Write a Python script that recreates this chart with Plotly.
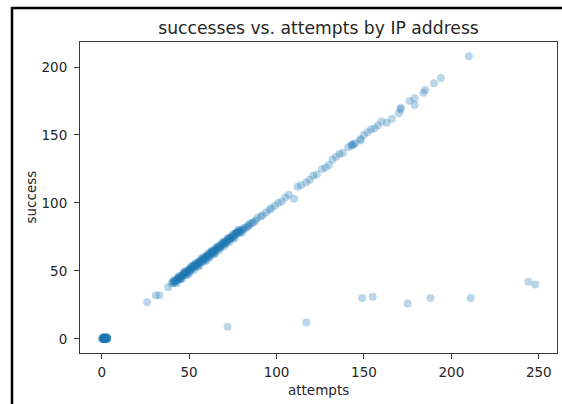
import plotly.graph_objects as go

# Login attempts and successes per IP address
attempts = [
    # addresses with almost no activity
    1, 1, 1, 1, 2, 2, 2, 3, 1, 2, 1, 1, 3, 2, 1, 1, 2, 3, 1, 2,
    2, 1, 0, 1, 2, 3, 1, 2, 1, 2, 3, 1, 2, 1, 3, 2, 2, 3, 2, 1,
    # main band
    26, 31, 33, 38,
    40, 41, 41, 42, 42, 43, 43, 44, 44, 45, 45, 45, 46, 46, 47, 47, 47, 48, 48,
    49, 49, 50, 50, 50, 51, 51, 52, 52, 52, 53, 53, 54, 54, 55, 55, 55, 56, 56,
    57, 57, 58, 58, 58, 59, 59, 60, 60, 60, 61, 61, 62, 62, 63, 63, 64, 64, 64,
    65, 65, 66, 66, 67, 67, 68, 68, 69, 69, 70, 70, 71, 71, 72, 72, 73, 73, 74,
    74, 75, 75, 76, 76, 77, 77, 78, 78, 79, 79, 80, 81, 82,
    # extra spread across the band
    41, 43, 44, 46, 48, 49, 51, 53, 54, 56, 57, 59, 61, 62, 63, 65, 66, 67,
    69, 70, 72, 73, 75, 76, 78, 80, 83, 86,
    42, 44, 45, 47, 48, 50, 51, 53, 55, 56, 58, 60, 61, 63, 64, 66, 68, 70,
    71, 73, 75, 77, 79, 81, 84, 88, 92, 97,
    84, 85, 87, 89, 91, 94, 96, 99, 101, 103, 105, 107, 110, 112, 114, 117,
    119, 121, 123, 126, 128, 130, 132, 134, 136, 138, 141, 143, 143, 144, 145,
    148, 148, 150, 152, 154, 156, 158, 160, 163, 166, 170, 171, 171, 176, 179,
    179, 184, 185, 190, 194, 210,
    # low-success outliers
    72, 117, 149, 155, 175, 188, 211, 244, 248,
]
success = [
    0, 0, 1, 0, 0, 1, 0, 0, 0, 1, 0, 0, 1, 0, 0, 1, 0, 0, 0, 0,
    1, 0, 0, 0, 0, 0, 1, 0, 0, 0, 1, 0, 0, 1, 0, 0, 0, 1, 0, 0,
    27, 32, 32, 38,
    41, 41, 42, 42, 43, 43, 44, 44, 45, 44, 45, 46, 46, 47, 47, 48, 49, 48, 49,
    49, 50, 48, 50, 51, 51, 52, 52, 53, 54, 53, 54, 54, 55, 53, 55, 56, 56, 57,
    57, 58, 58, 59, 60, 59, 60, 58, 60, 61, 61, 62, 62, 63, 63, 64, 62, 64, 65,
    65, 66, 66, 67, 67, 68, 68, 69, 69, 70, 70, 71, 71, 72, 72, 73, 73, 74, 74,
    75, 75, 76, 76, 77, 77, 78, 78, 79, 79, 80, 80, 80, 82,
    43, 41, 46, 44, 50, 47, 53, 51, 56, 54, 59, 57, 63, 60, 65, 63, 68, 65,
    71, 68, 74, 71, 77, 74, 80, 78, 82, 85,
    42, 45, 44, 48, 47, 51, 50, 54, 55, 57, 57, 61, 60, 64, 63, 67, 67, 71,
    70, 74, 74, 78, 78, 81, 84, 87, 91, 96,
    83, 85, 86, 89, 90, 93, 95, 98, 100, 101, 104, 106, 103, 112, 113, 115,
    117, 120, 121, 125, 126, 128, 132, 134, 136, 137, 141, 142, 143, 143, 144,
    147, 146, 150, 152, 154, 155, 157, 160, 159, 162, 166, 169, 170, 175, 177,
    172, 181, 183, 188, 192, 208,
    9, 12, 30, 31, 26, 30, 30, 42, 40,
]

x_ticks = [0, 50, 100, 150, 200, 250]
y_ticks = [0, 50, 100, 150, 200]

FONT = "DejaVu Sans"
INK = "#262626"

# figure geometry (pixels)
W, H = 562, 404
L, R, T, B = 80, 557, 42, 353


def px_x(p):
    return (p - L) / (R - L)


def px_y(p):
    return (B - p) / (B - T)


fig = go.Figure(
    go.Scatter(
        x=attempts,
        y=success,
        mode="markers",
        marker=dict(color="#1f77b4", size=8, opacity=0.3, line=dict(width=0)),
        hoverinfo="x+y",
    )
)

axis_common = dict(
    showgrid=False,
    zeroline=False,
    showline=True,
    mirror=True,
    linecolor="#3a3a3a",
    linewidth=1,
    ticks="outside",
    ticklen=5,
    tickwidth=1,
    tickcolor="#3a3a3a",
    tickfont=dict(family=FONT, size=13.5, color=INK),
)

fig.update_xaxes(range=[-12.4, 260.4], tickvals=x_ticks, ticklabelstandoff=2, **axis_common)
fig.update_yaxes(range=[-10.4, 218.4], tickvals=y_ticks, ticklabelstandoff=4, **axis_common)

fig.update_layout(
    width=W,
    height=H,
    margin=dict(l=L, r=W - R, t=T, b=H - B, pad=0),
    paper_bgcolor="white",
    plot_bgcolor="white",
    showlegend=False,
    title=dict(
        text="successes vs. attempts by IP address",
        x=0.5,
        xref="paper",
        xanchor="center",
        y=1 - 28 / H,
        yref="container",
        yanchor="middle",
        font=dict(family=FONT, size=17.2, color=INK),
    ),
    annotations=[
        dict(
            text="attempts",
            x=0.5,
            y=px_y(390),
            xref="paper",
            yref="paper",
            showarrow=False,
            xanchor="center",
            yanchor="middle",
            font=dict(family=FONT, size=13.5, color=INK),
        ),
        dict(
            text="success",
            x=px_x(30),
            y=0.5,
            xref="paper",
            yref="paper",
            showarrow=False,
            textangle=-90,
            xanchor="center",
            yanchor="middle",
            font=dict(family=FONT, size=13.5, color=INK),
        ),
    ],
    shapes=[
        # outer frame: left and top edges
        dict(type="line", xref="paper", yref="paper",
             x0=px_x(12), x1=px_x(12), y0=px_y(7), y1=px_y(410),
             line=dict(color="black", width=2.5)),
        dict(type="line", xref="paper", yref="paper",
             x0=px_x(11), x1=px_x(570), y0=px_y(8), y1=px_y(8),
             line=dict(color="black", width=2.5)),
    ],
)

fig.write_html("out.html")
